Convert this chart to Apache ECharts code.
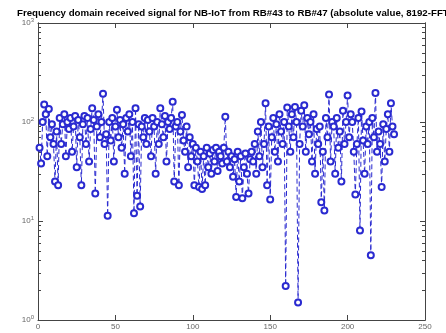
<!DOCTYPE html>
<html><head><meta charset="utf-8">
<script src="https://cdn.jsdelivr.net/npm/echarts@6/dist/echarts.min.js"></script>
<style>html,body{margin:0;padding:0;background:#fff}#c{width:446px;height:333px}</style>
</head><body><div id="c"></div>
<script>
const titleText = 'Frequency domain received signal for NB-IoT from RB#43 to RB#47 (absolute value, 8192-FFT)';
const xTicks = [0, 50, 100, 150, 200, 250];
const yMajor = [1, 10, 100, 1000];
const yMinor = [2,3,4,5,6,7,8,9,20,30,40,50,60,70,80,90,200,300,400,500,600,700,800,900];
const amplitude = [
  55, 38, 100, 150, 120, 45, 135, 70, 95, 60,
  25, 80, 23, 110, 60, 95, 120, 45, 100, 85,
  110, 50, 90, 115, 35, 105, 70, 23, 95, 115,
  60, 110, 40, 85, 138, 105, 19, 90, 120, 70,
  100, 193, 60, 75, 11.3, 100, 65, 110, 40, 90,
  133, 70, 105, 55, 95, 30, 110, 80, 120, 45,
  100, 12, 138, 18, 95, 14, 90, 70, 110, 60,
  105, 80, 45, 110, 90, 30, 100, 60, 138, 95,
  70, 115, 40, 100, 85, 110, 160, 25, 90, 100,
  23, 80, 118, 65, 50, 90, 35, 70, 45, 60,
  23, 55, 40, 22, 50, 21, 45, 23, 55, 35,
  48, 30, 52, 40, 55, 32, 50, 45, 38, 55,
  113, 40, 50, 35, 45, 28, 42, 17.5, 50, 25,
  45, 17, 35, 48, 30, 19, 42, 50, 40, 60,
  30, 80, 45, 100, 35, 60, 155, 23, 90, 16.5,
  70, 110, 50, 95, 40, 120, 80, 60, 100, 2.2,
  140, 90, 50, 120, 70, 142, 100, 1.5, 60, 130,
  90, 148, 50, 110, 75, 100, 40, 120, 30, 85,
  60, 90, 15.5, 50, 12.8, 110, 70, 190, 40, 100,
  90, 30, 110, 55, 80, 25, 130, 60, 100, 185,
  70, 120, 100, 50, 18.5, 60, 110, 8, 128, 65,
  30, 90, 60, 100, 4.5, 110, 70, 196, 50, 80,
  60, 22, 95, 40, 85, 120, 50, 155, 90, 75
];
const points = amplitude.map((v, i) => [i + 1, v]);

const axisCol = '#444';
const lblCol = '#666';
const font = 'Liberation Sans, Arial, sans-serif';
const chart = echarts.init(document.getElementById('c'), null, {renderer: 'canvas'});
function yAx(pos, labels, minor) {
  return {
    type: 'log', logBase: 10, min: 1, max: 1000, position: pos,
    axisLine: {show: true, lineStyle: {color: axisCol, width: 1}},
    axisTick: {show: true, inside: true, length: minor ? 3 : 5, lineStyle: {color: axisCol},
      customValues: minor ? yMinor : yMajor},
    axisLabel: labels ? {show: true, color: lblCol, fontSize: 8, fontFamily: font, margin: 4,
      customValues: yMajor,
      formatter: v => '10{s|' + Math.round(Math.log(v) / Math.LN10) + '}',
      rich: {s: {fontSize: 6, verticalAlign: 'top', padding: [0, 0, 6, 0], color: lblCol, fontFamily: font}}
    } : {show: false},
    splitLine: {show: false}, minorTick: {show: false}
  };
}
chart.setOption({
  animation: false,
  backgroundColor: '#fff',
  title: {text: titleText, left: 12, top: 3,
    textStyle: {fontSize: 9.7, fontWeight: 'bold', color: '#000', fontFamily: font}},
  grid: {left: 38, right: 21, top: 23, bottom: 13, containLabel: false},
  xAxis: [
    {type: 'value', min: 0, max: 250, interval: 50, position: 'bottom',
      axisLine: {show: true, onZero: false, lineStyle: {color: axisCol}},
      axisTick: {show: true, inside: true, length: 5, lineStyle: {color: axisCol}},
      axisLabel: {color: lblCol, fontSize: 8, fontFamily: font, margin: 3},
      splitLine: {show: false}},
    {type: 'value', min: 0, max: 250, interval: 50, position: 'top',
      axisLine: {show: true, onZero: false, lineStyle: {color: axisCol}},
      axisTick: {show: true, inside: true, length: 5, lineStyle: {color: axisCol}},
      axisLabel: {show: false}, splitLine: {show: false}}
  ],
  yAxis: [yAx('left', true, false), yAx('left', false, true), yAx('right', false, false), yAx('right', false, true)],
  series: [{
    type: 'line', data: points, xAxisIndex: 0, yAxisIndex: 0,
    symbol: 'emptyCircle', symbolSize: 6,
    itemStyle: {color: '#2a2ad0', borderWidth: 1},
    lineStyle: {color: '#2a2ad0', width: 1, type: [5, 3]},
    z: 3
  }]
});
</script></body></html>
